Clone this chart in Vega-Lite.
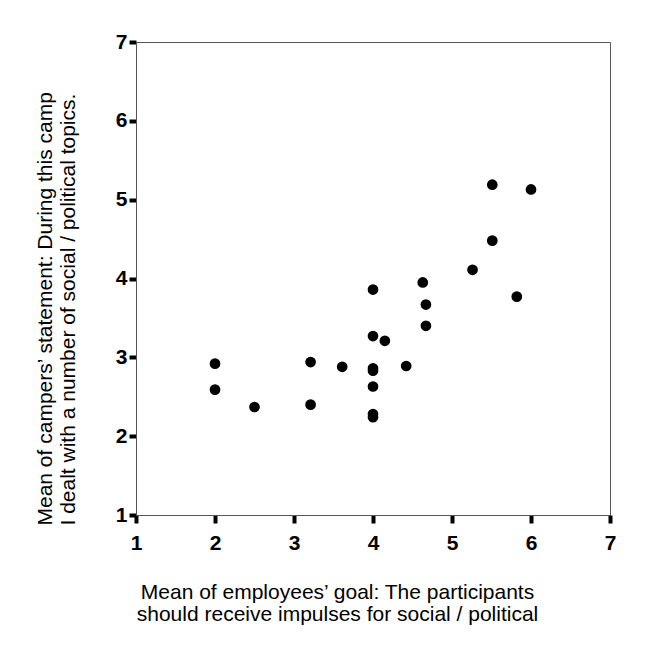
{
  "$schema": "https://vega.github.io/schema/vega-lite/v6.json",
  "width": 474,
  "height": 473,
  "autosize": {"type": "none"},
  "padding": {"left": 136, "top": 42, "right": 49, "bottom": 143},
  "background": "white",
  "config": {
    "font": "Liberation Sans",
    "view": {"stroke": "#555", "strokeWidth": 1}
  },
  "data": {
    "values": [
      {"goal": 2.0, "statement": 2.92},
      {"goal": 2.0, "statement": 2.59},
      {"goal": 2.5, "statement": 2.37},
      {"goal": 3.21, "statement": 2.94},
      {"goal": 3.21, "statement": 2.40},
      {"goal": 3.61, "statement": 2.88},
      {"goal": 4.0, "statement": 3.86},
      {"goal": 4.0, "statement": 3.27},
      {"goal": 4.15, "statement": 3.21},
      {"goal": 4.0, "statement": 2.86},
      {"goal": 4.0, "statement": 2.83},
      {"goal": 4.0, "statement": 2.63},
      {"goal": 4.0, "statement": 2.28},
      {"goal": 4.0, "statement": 2.24},
      {"goal": 4.42, "statement": 2.89},
      {"goal": 4.63, "statement": 3.95},
      {"goal": 4.67, "statement": 3.67},
      {"goal": 4.67, "statement": 3.40},
      {"goal": 5.26, "statement": 4.11},
      {"goal": 5.51, "statement": 5.19},
      {"goal": 5.51, "statement": 4.48},
      {"goal": 5.82, "statement": 3.77},
      {"goal": 6.0, "statement": 5.13}
    ]
  },
  "mark": {"type": "circle", "size": 115, "color": "black", "opacity": 1},
  "encoding": {
    "x": {
      "field": "goal",
      "type": "quantitative",
      "scale": {"domain": [1, 7], "nice": false, "zero": false},
      "axis": {
        "values": [1, 2, 3, 4, 5, 6, 7],
        "grid": false,
        "domainColor": "#555",
        "domainWidth": 1,
        "tickColor": "black",
        "tickWidth": 4,
        "tickSize": 8,
        "labelFontSize": 21,
        "labelFontWeight": "bold",
        "labelColor": "black",
        "labelPadding": 9,
        "labelFlush": false,
        "labelOverlap": false,
        "title": ["Mean of employees’ goal: The participants", "should receive impulses for social / political"],
        "titleFontSize": 21,
        "titleFontWeight": "normal",
        "titleColor": "black",
        "titleX": 201,
        "titleY": 83,
        "titleAlign": "center",
        "titleAnchor": "middle",
        "titleBaseline": "alphabetic",
        "titleLineHeight": 22
      }
    },
    "y": {
      "field": "statement",
      "type": "quantitative",
      "scale": {"domain": [1, 7], "nice": false, "zero": false},
      "axis": {
        "values": [1, 2, 3, 4, 5, 6, 7],
        "grid": false,
        "domainColor": "#555",
        "domainWidth": 1,
        "tickColor": "black",
        "tickWidth": 4,
        "tickSize": 7,
        "labelFontSize": 21,
        "labelFontWeight": "bold",
        "labelColor": "black",
        "labelPadding": 2,
        "labelFlush": false,
        "labelOverlap": false,
        "title": ["Mean of campers’ statement: During this camp", "I dealt with a number of social / political topics."],
        "titleFontSize": 21,
        "titleFontWeight": "normal",
        "titleColor": "black",
        "titleAngle": -90,
        "titleX": -84.5,
        "titleY": 483,
        "titleAlign": "left",
        "titleBaseline": "alphabetic",
        "titleLineHeight": 23
      }
    }
  }
}
